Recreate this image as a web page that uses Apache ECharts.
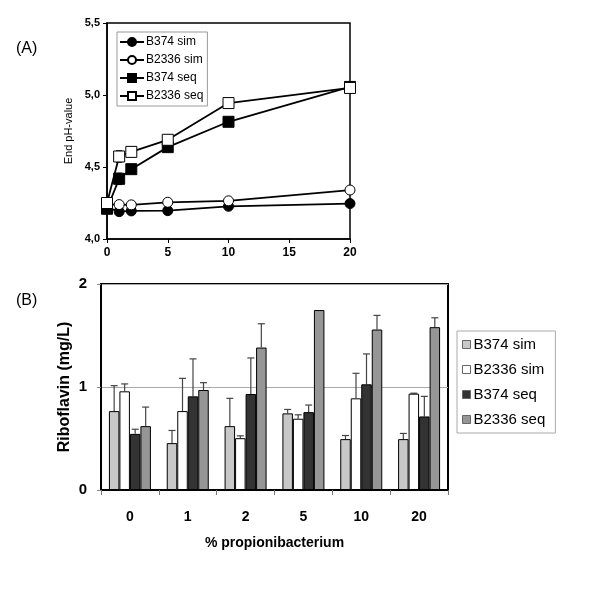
<!DOCTYPE html>
<html><head><meta charset="utf-8">
<script src="https://cdn.jsdelivr.net/npm/echarts@6/dist/echarts.min.js"></script>
<style>html,body{margin:0;padding:0;background:#fff}#c{width:600px;height:600px}</style>
</head><body><div id="c"></div>
<script>
// Panel A data
const phX = [0, 1, 2, 5, 10, 20];
const phNames = ['B374 sim', 'B2336 sim', 'B374 seq', 'B2336 seq'];
const phB374sim = [4.22, 4.19, 4.195, 4.197, 4.227, 4.246];
const phB2336sim = [4.24, 4.239, 4.237, 4.255, 4.265, 4.34];
const phB374seq = [4.21, 4.418, 4.485, 4.638, 4.814, 5.056];
const phB2336seq = [4.25, 4.573, 4.605, 4.689, 4.944, 5.049];
const phErrB374seq = [0, 0.04, 0, 0, 0, 0];
const phErrB2336seq = [0, 0.04, 0, 0, 0, 0];
const phTicks = [4.0, 4.5, 5.0, 5.5];

// Panel B data
const ribCats = ['0', '1', '2', '5', '10', '20'];
const ribB374sim = [0.766, 0.455, 0.62, 0.744, 0.494, 0.494];
const ribB2336sim = [0.958, 0.766, 0.503, 0.692, 0.89, 0.935];
const ribB374seq = [0.545, 0.909, 0.932, 0.756, 1.026, 0.714];
const ribB2336seq = [0.62, 0.971, 1.383, 1.747, 1.558, 1.581];
const ribErrTopB374sim = [1.013, 0.578, 0.89, 0.782, 0.529, 0.549];
const ribErrTopB2336sim = [1.03, 1.084, 0.526, 0.73, 1.133, 0.94];
const ribErrTopB374seq = [0.59, 1.273, 1.282, 0.825, 1.321, 0.909];
const ribErrTopB2336seq = [0.805, 1.042, 1.614, null, 1.695, 1.672];

const FONT = 'Liberation Sans';
const barColors = ['#c8c8c8', '#ffffff', '#333333', '#969696'];
const BW = 10.5;

const chart = echarts.init(document.getElementById('c'), null, {renderer: 'canvas'});

function zip(x, y) { return x.map((v, i) => [v, y[i]]); }

const phSeriesVals = [phB374sim, phB2336sim, phB374seq, phB2336seq];
const phSymbols = ['circle', 'circle', 'rect', 'rect'];
const phFill = ['#000', '#fff', '#000', '#fff'];

const series = [];
phSeriesVals.forEach((vals, i) => {
  series.push({
    type: 'line', name: phNames[i], xAxisIndex: 0, yAxisIndex: 0,
    data: zip(phX, vals), symbol: phSymbols[i], symbolSize: i < 2 ? 10 : 11,
    lineStyle: {color: '#000', width: 1.8},
    itemStyle: {color: phFill[i], borderColor: '#000', borderWidth: 1},
    z: 3
  });
});

// pH error bars
const phErrData = [];
phX.forEach((x, i) => {
  if (phErrB374seq[i] > 0) phErrData.push([x, phB374seq[i] - phErrB374seq[i], phB374seq[i] + phErrB374seq[i]]);
  if (phErrB2336seq[i] > 0) phErrData.push([x, phB2336seq[i] - phErrB2336seq[i], phB2336seq[i] + phErrB2336seq[i]]);
});
series.push({
  type: 'custom', xAxisIndex: 0, yAxisIndex: 0, data: phErrData, z: 2, silent: true,
  renderItem: function (params, api) {
    const lo = api.coord([api.value(0), api.value(1)]);
    const hi = api.coord([api.value(0), api.value(2)]);
    const w = 3;
    return {type: 'group', children: [
      {type: 'line', shape: {x1: lo[0], y1: lo[1], x2: hi[0], y2: hi[1]}, style: {stroke: '#000', lineWidth: 1}},
      {type: 'line', shape: {x1: lo[0] - w, y1: lo[1], x2: lo[0] + w, y2: lo[1]}, style: {stroke: '#000', lineWidth: 1}},
      {type: 'line', shape: {x1: hi[0] - w, y1: hi[1], x2: hi[0] + w, y2: hi[1]}, style: {stroke: '#000', lineWidth: 1}}
    ]};
  }
});

// bars
const ribVals = [ribB374sim, ribB2336sim, ribB374seq, ribB2336seq];
const ribErr = [ribErrTopB374sim, ribErrTopB2336sim, ribErrTopB374seq, ribErrTopB2336seq];
ribVals.forEach((vals, i) => {
  series.push({
    type: 'bar', name: phNames[i] + ' ', xAxisIndex: 1, yAxisIndex: 1,
    data: vals, barWidth: BW, barGap: '0%',
    itemStyle: {color: barColors[i], borderColor: '#000', borderWidth: 1},
    z: 2
  });
});
ribErr.forEach((errs, si) => {
  const data = [];
  errs.forEach((e, ci) => { if (e != null) data.push([ci, ribVals[si][ci], e]); });
  series.push({
    type: 'custom', xAxisIndex: 1, yAxisIndex: 1, data: data, z: 1, silent: true,
    renderItem: function (params, api) {
      const ci = api.value(0);
      const base = api.coord([ci, api.value(1)]);
      const top = api.coord([ci, api.value(2)]);
      const x = base[0] + (si - 1.5) * BW;
      const w = 3.5;
      return {type: 'group', children: [
        {type: 'line', shape: {x1: x, y1: base[1], x2: x, y2: top[1]}, style: {stroke: '#444', lineWidth: 1.2}},
        {type: 'line', shape: {x1: x - w, y1: top[1], x2: x + w, y2: top[1]}, style: {stroke: '#444', lineWidth: 1.2}}
      ]};
    }
  });
});

const option = {
  animation: false,
  backgroundColor: '#fff',
  textStyle: {fontFamily: FONT},
  title: [
    {text: '(A)', left: 11, top: 36, textStyle: {fontFamily: FONT, fontSize: 16, fontWeight: 'normal', color: '#000'}},
    {text: '(B)', left: 11, top: 288, textStyle: {fontFamily: FONT, fontSize: 16, fontWeight: 'normal', color: '#000'}}
  ],
  legend: [
    {
      data: phNames, orient: 'vertical', left: 117, top: 32, width: 90,
      itemGap: 6, itemWidth: 24, itemHeight: 10, padding: [4, 4, 4, 2],
      borderColor: '#999', borderWidth: 1, backgroundColor: '#fff',
      textStyle: {fontFamily: FONT, fontSize: 12, color: '#000', padding: [0, 0, 0, -3]}
    },
    {
      data: phNames.map(n => n + ' '), orient: 'vertical', left: 457, top: 331,
      itemGap: 10, itemWidth: 8, itemHeight: 8, padding: [6, 6, 6, 5], icon: 'rect',
      borderColor: '#aaa', borderWidth: 1, backgroundColor: '#fff',
      itemStyle: {borderColor: '#666', borderWidth: 1},
      textStyle: {fontFamily: FONT, fontSize: 15, color: '#000', padding: [0, 0, 0, -2]}
    }
  ],
  grid: [
    {left: 107, top: 23, width: 243, height: 216, show: true, borderColor: '#000', borderWidth: 1.5, containLabel: false},
    {left: 101, top: 284, width: 347, height: 206, show: true, borderColor: '#000', borderWidth: 2, containLabel: false}
  ],
  xAxis: [
    {
      type: 'value', gridIndex: 0, min: 0, max: 20, interval: 5,
      axisLine: {lineStyle: {color: '#000', width: 1.5}},
      axisTick: {show: true, length: 4, lineStyle: {color: '#000'}},
      axisLabel: {fontFamily: FONT, fontSize: 12, fontWeight: 'bold', color: '#000', margin: 8},
      splitLine: {show: false}
    },
    {
      type: 'category', gridIndex: 1, data: ribCats, boundaryGap: true,
      axisLine: {lineStyle: {color: '#000', width: 2}},
      axisTick: {show: true, length: 5, lineStyle: {color: '#777'}},
      axisLabel: {fontFamily: FONT, fontSize: 14, fontWeight: 'bold', color: '#000', margin: 20},
      name: '% propionibacterium', nameLocation: 'middle', nameGap: 46,
      nameTextStyle: {fontFamily: FONT, fontSize: 14, fontWeight: 'bold', color: '#000'}
    }
  ],
  yAxis: [
    {
      type: 'value', gridIndex: 0, min: 4.0, max: 5.5, interval: 0.5,
      axisLine: {show: true, lineStyle: {color: '#000', width: 1.5}},
      axisTick: {show: true, length: 4, lineStyle: {color: '#000'}},
      axisLabel: {fontFamily: FONT, fontSize: 11, fontWeight: 'bold', color: '#000', margin: 7,
        formatter: v => phTicks.includes(+v.toFixed(1)) ? v.toFixed(1).replace('.', ',') : ''},
      splitLine: {show: false},
      name: 'End pH-value', nameLocation: 'middle', nameGap: 33, nameRotate: 90, nameMoveOverlap: false,
      nameTextStyle: {fontFamily: FONT, fontSize: 11, color: '#000'}
    },
    {
      type: 'value', gridIndex: 1, min: 0, max: 2, interval: 1,
      axisLine: {show: true, lineStyle: {color: '#000', width: 2}},
      axisTick: {show: true, length: 4, lineStyle: {color: '#888'}},
      axisLabel: {fontFamily: FONT, fontSize: 15, fontWeight: 'bold', color: '#000', margin: 14},
      splitLine: {show: true, lineStyle: {color: '#aaa', width: 1}},
      name: 'Riboflavin (mg/L)', nameLocation: 'middle', nameGap: 28, nameRotate: 90, nameMoveOverlap: false,
      nameTextStyle: {fontFamily: FONT, fontSize: 16, fontWeight: 'bold', color: '#000'}
    }
  ],
  series: series
};
chart.setOption(option);
</script></body></html>
